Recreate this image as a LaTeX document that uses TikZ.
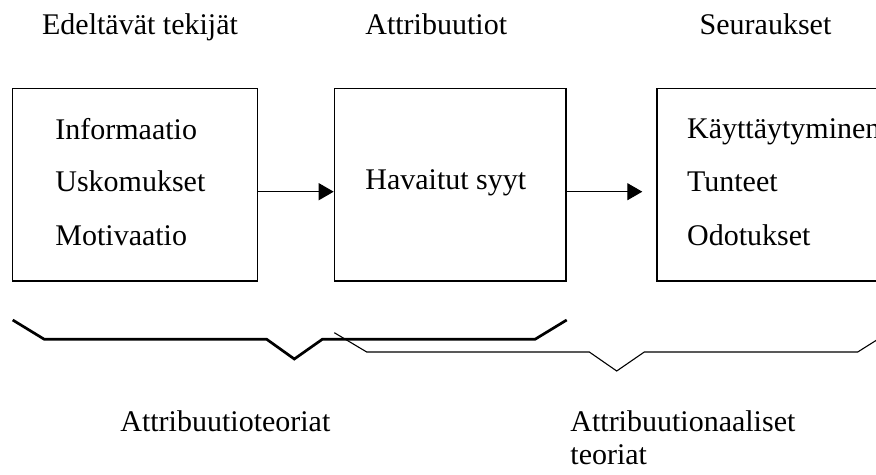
\documentclass[tikz,border=0pt]{standalone}
\usepackage{fontspec}
\setmainfont{Liberation Serif}
\usetikzlibrary{arrows.meta}

\begin{document}
\begin{tikzpicture}[x=0.5pt, y=-0.5pt,
  every node/.style={font=\fontsize{15pt}{18pt}\selectfont},
  label/.style={anchor=base west, inner sep=0pt},
  box/.style={draw, line width=0.7pt, minimum height=96.3pt, inner sep=0pt},
  arr/.style={line width=0.55pt, -{Triangle[length=7.5pt, width=8.5pt]}},
  bigbrace/.style={line width=1.35pt, line join=miter},
  smallbrace/.style={line width=0.55pt, line join=miter}]

  \clip (0,0) rectangle (876,475);

  % column headings
  \node[label] (h1) at (41.7,35) {Edeltävät tekijät};
  \node[label] (h2) at (365,35) {Attribuutiot};
  \node[label] (h3) at (699.3,35) {Seuraukset};

  % the three boxes
  \node[box, minimum width=122.5pt] (b1) at (134.8,184.7) {};
  \node[box, minimum width=115.8pt] (b2) at (450.2,184.7) {};
  \node[box, minimum width=150pt] (b3) at (807,184.7) {};

  % box contents
  \node[label] (t11) at (55,140) {Informaatio};
  \node[label] (t12) at (55,191.7) {Uskomukset};
  \node[label] (t13) at (55,245.7) {Motivaatio};
  \node[label] (t21) at (365,189.3) {Havaitut syyt};
  \node[label] (t31) at (686.7,138.3) {Käyttäytyminen};
  \node[label] (t32) at (686.7,191.7) {Tunteet};
  \node[label] (t33) at (686.7,245.7) {Odotukset};

  % arrows between the boxes
  \draw[arr] ([yshift=-3.5pt]b1.east) -- ([yshift=-3.5pt]b2.west);
  \draw[arr] ([yshift=-3.5pt]b2.east) -- ([yshift=-3.5pt, xshift=-7pt]b3.west);

  % braces
  \draw[bigbrace] (12.7,320) -- (44.3,339.3) -- (266.7,339.3) -- (294.3,359)
    -- (322.3,339.3) -- (535,339.3) -- (566.7,320);
  \draw[smallbrace] (334.3,332.7) -- (366.7,352) -- (589.3,352) -- (616.7,371)
    -- (644.3,352) -- (857.7,352) -- (895,328.5);

  % brace labels
  \node[label] (l1) at (120,431) {Attribuutioteoriat};
  \node[label] (l2) at (570,431) {Attribuutionaaliset};
  \node[label] (l3) at (570,464) {teoriat};
\end{tikzpicture}
\end{document}
